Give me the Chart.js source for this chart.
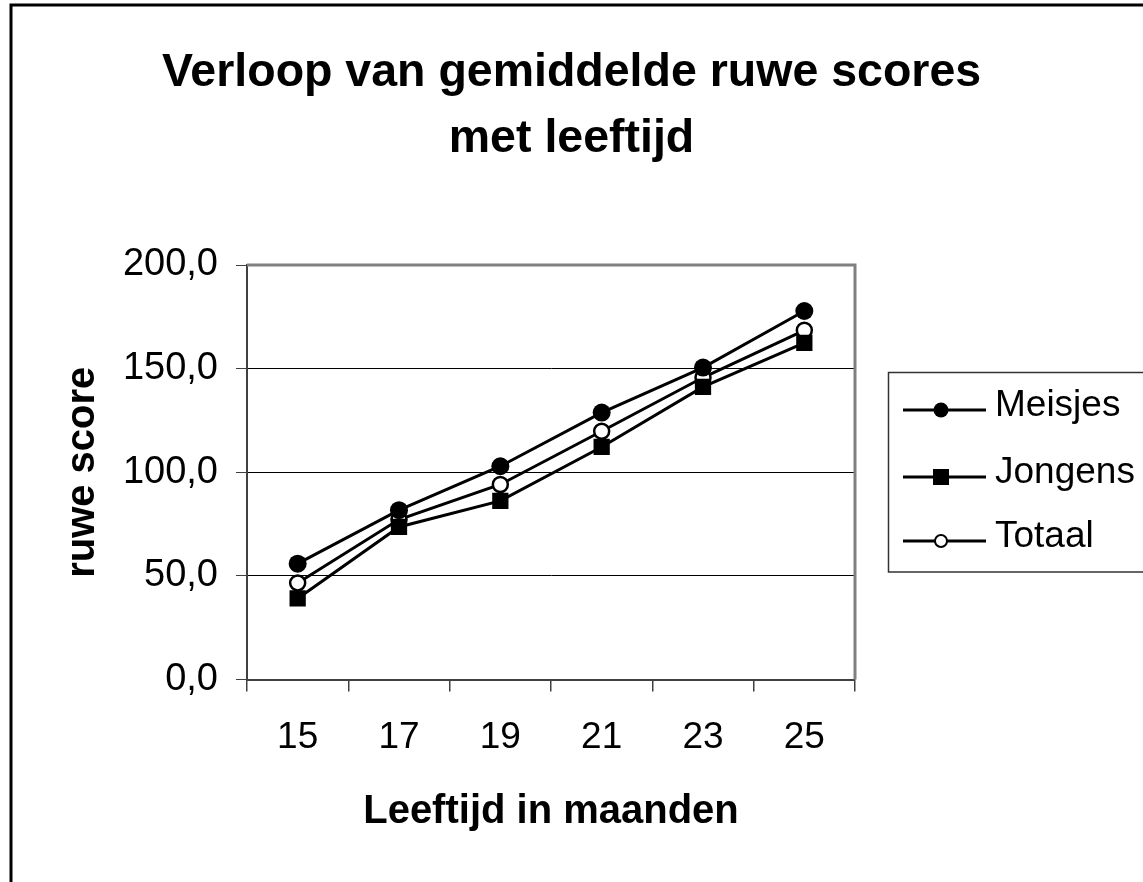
<!DOCTYPE html>
<html>
<head>
<meta charset="utf-8">
<script src="https://cdn.jsdelivr.net/npm/chart.js@4/dist/chart.umd.min.js"></script>
<style>
html,body{margin:0;padding:0;background:#fff;}
#wrap{width:1143px;height:882px;position:relative;}
canvas{display:block;}
</style>
</head>
<body>
<div id="wrap"><canvas id="c" width="1143" height="882"></canvas></div>
<script>
// ---- data ----
const categories = ['15', '17', '19', '21', '23', '25'];
const meisjes = [55.9, 81.7, 102.9, 128.8, 150.5, 177.8];
const jongens = [39.1, 73.6, 86.2, 112.2, 141.2, 162.4];
const totaal  = [46.6, 77.2, 94.1, 119.8, 145.7, 168.5];
const seriesNames = ['Meisjes', 'Jongens', 'Totaal'];
const yTickValues = [0, 50, 100, 150, 200];
const titleLines = ['Verloop van gemiddelde ruwe scores', 'met leeftijd'];
const xTitle = 'Leeftijd in maanden';
const yTitle = 'ruwe score';

const FONT = '"Liberation Sans", Arial, Helvetica, sans-serif';

const outerBorder = {
  id: 'outerBorder',
  beforeDraw(chart) {
    const ctx = chart.ctx;
    ctx.save();
    ctx.fillStyle = '#fff';
    ctx.fillRect(0, 0, chart.width, chart.height);
    ctx.restore();
  },
  afterDraw(chart) {
    const ctx = chart.ctx;
    ctx.save();
    ctx.strokeStyle = '#000';
    ctx.lineWidth = 3;
    ctx.beginPath();
    ctx.moveTo(11, chart.height + 5);
    ctx.lineTo(11, 5);
    ctx.lineTo(chart.width + 5, 5);
    ctx.stroke();
    ctx.restore();
  }
};

const plotFrame = {
  id: 'plotFrame',
  beforeDatasetsDraw(chart) {
    const {ctx, chartArea: a} = chart;
    ctx.save();
    ctx.strokeStyle = '#808080';
    ctx.lineWidth = 3;
    ctx.beginPath();
    ctx.moveTo(a.left, a.top);
    ctx.lineTo(a.right, a.top);
    ctx.lineTo(a.right, a.bottom);
    ctx.stroke();
    ctx.restore();
  }
};

const boxLegend = {
  id: 'boxLegend',
  afterDraw(chart) {
    const ctx = chart.ctx;
    ctx.save();
    ctx.strokeStyle = '#333';
    ctx.lineWidth = 1.5;
    ctx.strokeRect(888.5, 372.5, 400, 199.5);
    const rows = [410, 477, 541];
    chart.data.datasets.forEach((ds, i) => {
      const y = rows[i];
      ctx.strokeStyle = '#000';
      ctx.lineWidth = 3;
      ctx.beginPath();
      ctx.moveTo(903, y);
      ctx.lineTo(986, y);
      ctx.stroke();
      const cx = 941;
      if (ds.pointStyle === 'rect') {
        ctx.fillStyle = '#000';
        ctx.fillRect(cx - 8, y - 8, 16, 16);
      } else if (ds.pointBackgroundColor === '#fff') {
        ctx.beginPath();
        ctx.arc(cx, y, 6, 0, Math.PI * 2);
        ctx.fillStyle = '#fff';
        ctx.fill();
        ctx.lineWidth = 2;
        ctx.stroke();
      } else {
        ctx.beginPath();
        ctx.arc(cx, y, 7.5, 0, Math.PI * 2);
        ctx.fillStyle = '#000';
        ctx.fill();
      }
      ctx.fillStyle = '#000';
      ctx.font = '37px ' + FONT;
      ctx.textBaseline = 'middle';
      ctx.textAlign = 'left';
      ctx.fillText(ds.label, 995, y - 4);
    });
    ctx.restore();
  }
};

new Chart(document.getElementById('c'), {
  type: 'line',
  data: {
    labels: categories,
    datasets: [
      { label: seriesNames[0], data: meisjes, borderColor: '#000', borderWidth: 3,
        pointStyle: 'circle', pointRadius: 9, pointBackgroundColor: '#000', pointBorderColor: '#000', pointBorderWidth: 0 },
      { label: seriesNames[1], data: jongens, borderColor: '#000', borderWidth: 3,
        pointStyle: 'rect', pointRadius: 11.5, pointBackgroundColor: '#000', pointBorderColor: '#000', pointBorderWidth: 0 },
      { label: seriesNames[2], data: totaal, borderColor: '#000', borderWidth: 3,
        pointStyle: 'circle', pointRadius: 7.5, pointBackgroundColor: '#fff', pointBorderColor: '#000', pointBorderWidth: 2.5 }
    ]
  },
  options: {
    responsive: false,
    animation: false,
    devicePixelRatio: 1,
    layout: { padding: { left: 0, right: 0, top: 0, bottom: 0 } },
    plugins: {
      legend: { display: false },
      tooltip: { enabled: false },
      title: {
        display: true,
        text: titleLines,
        color: '#000',
        font: { family: FONT, size: 46.5, weight: 'bold', lineHeight: 66 / 46.5 },
        padding: { top: 40, bottom: 93 }
      }
    },
    scales: {
      x: {
        type: 'category',
        offset: true,
        grid: { display: true, drawOnChartArea: false, drawTicks: true, offset: true, tickLength: 12, color: '#404040', lineWidth: 1.5 },
        border: { display: true, color: '#404040', width: 2 },
        ticks: { color: '#000', font: { family: FONT, size: 37 }, padding: 24, maxRotation: 0, autoSkip: false },
        title: { display: true, text: xTitle, color: '#000', font: { family: FONT, size: 40, weight: 'bold', lineHeight: 1.2 }, padding: { top: 0, bottom: 46 } },
        afterFit(scale) { scale.height = 202.5; }
      },
      y: {
        min: 0, max: 200,
        afterBuildTicks(scale) { scale.ticks = yTickValues.map(v => ({ value: v })); },
        grid: {
          drawTicks: true, tickLength: 11,
          color: (c) => (c.tick && c.tick.value === 200) ? 'rgba(0,0,0,0)' : '#000',
          tickColor: '#404040',
          lineWidth: 1
        },
        border: { display: true, color: '#404040', width: 2 },
        ticks: {
          color: '#000', font: { family: FONT, size: 38 }, padding: 18,
          callback: (v) => Number(v).toFixed(1).replace('.', ',')
        },
        title: { display: true, text: yTitle, color: '#000', font: { family: FONT, size: 40, weight: 'bold', lineHeight: 1.2 }, padding: { top: 59, bottom: 0 } },
        afterFit(scale) { scale.width = 247; }
      },
      rightSpace: {
        type: 'linear',
        position: 'right',
        display: true,
        grid: { display: false, drawTicks: false },
        border: { display: false },
        ticks: { display: false },
        title: { display: false },
        afterFit(scale) { scale.width = 288; }
      }
    }
  },
  plugins: [outerBorder, plotFrame, boxLegend]
});
</script>
</body>
</html>
